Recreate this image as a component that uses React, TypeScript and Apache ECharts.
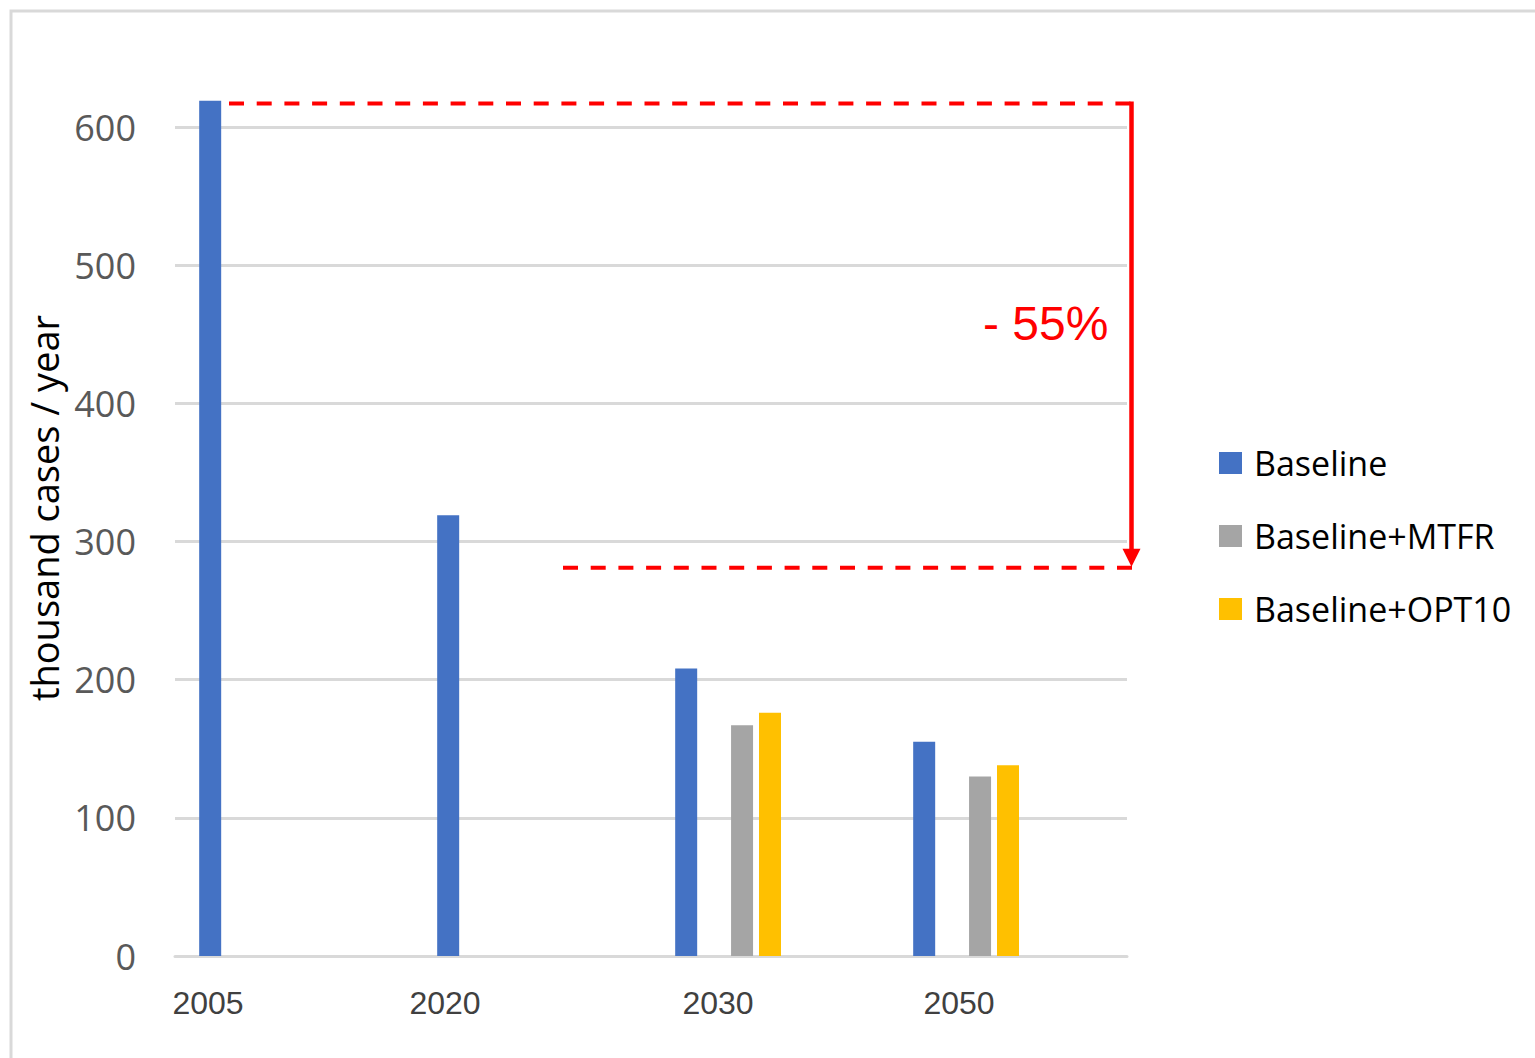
import React, { useEffect, useRef } from "react";
import * as echarts from "echarts";

// ---- data ----
const categories = ["2005", "2020", "2030", "2050"];
const baseline = [619, 319, 208, 155];
const baselineMtfr = [null, null, 167, 130];
const baselineOpt10 = [null, null, 176, 138];
const seriesNames = ["Baseline", "Baseline+MTFR", "Baseline+OPT10"];
const seriesColors = ["#4472C4", "#A5A5A5", "#FFC000"];
const yMin = 0;
const yMax = 600;
const yInterval = 100;
const reductionFrom = 617;
const reductionTo = 281;
const reductionLabel = "- 55%";
const yAxisName = "thousand cases / year";

export default function App() {
  const ref = useRef<HTMLDivElement>(null);

  useEffect(() => {
    if (!ref.current) return;
    const chart = echarts.init(ref.current, undefined, { renderer: "svg" });

    // label shifts (styling only) to match original tick label placement
    const labelPad = [172, 174, 104, 98];
    const rich: any = {};
    labelPad.forEach((p, i) => {
      rich["c" + i] = {
        fontSize: 32,
        fontFamily: '"Liberation Sans", Arial, sans-serif',
        color: "#404040",
        padding: [0, p, 0, 0],
      };
    });

    const bar = (name: string, data: any[], color?: string) => ({
      type: "bar",
      name,
      data,
      barWidth: 22,
      barGap: "27%",
      clip: false,
      silent: true,
      itemStyle: color ? { color } : undefined,
    });
    const gap = (id: string) => bar(id, categories.map(() => null));

    const option: any = {
      animation: false,
      backgroundColor: "#ffffff",
      grid: { left: 175, right: 408, top: 127, bottom: 102, containLabel: false },
      legend: {
        data: seriesNames,
        orient: "vertical",
        left: 1214,
        top: 438,
        itemWidth: 23,
        itemHeight: 22,
        itemGap: 33,
        icon: "rect",
        selectedMode: false,
        textStyle: {
          fontSize: 34,
          fontFamily: '"Open Sans", sans-serif',
          color: "#000000",
          lineHeight: 40,
          padding: [0, 0, 0, 7],
        },
      },
      xAxis: {
        type: "category",
        data: categories,
        axisTick: { show: false },
        axisLine: { show: true, lineStyle: { color: "#d9d9d9", width: 3 } },
        axisLabel: {
          margin: 31,
          fontSize: 32,
          fontFamily: '"Liberation Sans", Arial, sans-serif',
          color: "#404040",
          formatter: (v: string, i: number) => `{c${i}|${v}}`,
          rich,
        },
      },
      yAxis: {
        type: "value",
        min: yMin,
        max: yMax,
        interval: yInterval,
        axisLine: { show: false },
        axisTick: { show: false },
        axisLabel: {
          fontSize: 36,
          fontFamily: '"Open Sans", sans-serif',
          color: "#595959",
          margin: 39,
        },
        splitLine: { lineStyle: { color: "#d9d9d9", width: 3 } },
        name: yAxisName,
        nameLocation: "middle",
        nameRotate: 90,
        nameGap: 106,
        nameTextStyle: {
          fontSize: 38,
          fontFamily: '"Open Sans", sans-serif',
          color: "#000000",
          padding: [0, 0, 0, 67],
        },
      },
      series: [
        bar(seriesNames[0], baseline, seriesColors[0]),
        gap("_gap1"),
        bar(seriesNames[1], baselineMtfr, seriesColors[1]),
        bar(seriesNames[2], baselineOpt10, seriesColors[2]),
        gap("_gap2"),
        gap("_gap3"),
        gap("_gap4"),
      ],
    };

    chart.setOption(option);

    const yTop = chart.convertToPixel({ yAxisIndex: 0 }, reductionFrom) as number;
    const yBot = chart.convertToPixel({ yAxisIndex: 0 }, reductionTo) as number;
    const endX = 1133;
    const arrowX = 1131.5;
    const red = "#ff0000";

    chart.setOption({
      graphic: [
        {
          type: "rect",
          silent: true,
          z: -10,
          shape: { x: 11, y: 11, width: 1700, height: 1300 },
          style: { fill: "none", stroke: "#d9d9d9", lineWidth: 3 },
        },
        {
          type: "line",
          silent: true,
          z: 10,
          shape: { x1: 229, y1: yTop, x2: endX, y2: yTop },
          style: { stroke: red, lineWidth: 4, lineDash: [15, 12.7] },
        },
        {
          type: "line",
          silent: true,
          z: 10,
          shape: { x1: 563, y1: yBot, x2: endX, y2: yBot },
          style: { stroke: red, lineWidth: 4, lineDash: [15, 12.7] },
        },
        {
          type: "line",
          silent: true,
          z: 10,
          shape: { x1: arrowX, y1: yTop - 2, x2: arrowX, y2: yBot - 16 },
          style: { stroke: red, lineWidth: 4.5 },
        },
        {
          type: "polygon",
          silent: true,
          z: 10,
          shape: {
            points: [
              [arrowX - 9, yBot - 19],
              [arrowX + 9, yBot - 19],
              [arrowX, yBot - 1],
            ],
          },
          style: { fill: red },
        },
        {
          type: "text",
          silent: true,
          z: 10,
          x: 983,
          y: 323,
          style: {
            text: reductionLabel,
            fontSize: 48,
            fontFamily: '"Liberation Sans", Arial, sans-serif',
            fill: red,
            align: "left",
            verticalAlign: "middle",
          },
        },
      ],
    });

    return () => chart.dispose();
  }, []);

  return (
    <div
      ref={ref}
      style={{ position: "fixed", left: 0, top: 0, width: 1535, height: 1058, background: "#fff" }}
    />
  );
}
